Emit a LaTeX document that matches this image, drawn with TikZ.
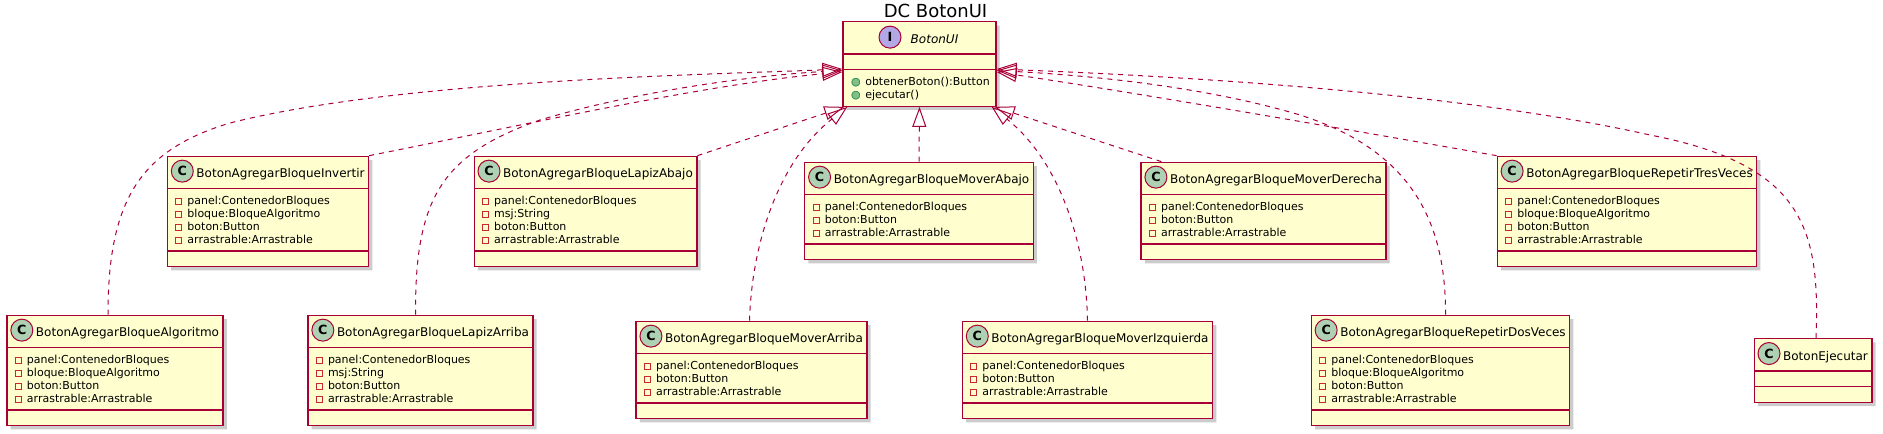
\documentclass[tikz,border=0pt]{standalone}
\usepackage{fontspec}
\setmainfont{DejaVu Sans}
\usepackage{tikz}
\usetikzlibrary{
  arrows.meta,
  calc,
  shapes.multipart,
  shadows
}

\definecolor{umlred}{HTML}{A80036}
\definecolor{umlfill}{HTML}{FEFECE}
\definecolor{clsicon}{HTML}{ADD1B2}
\definecolor{ifcicon}{HTML}{B4A7E5}
\definecolor{privred}{HTML}{C82930}
\definecolor{pubfill}{HTML}{84BE84}
\definecolor{publine}{HTML}{038048}

\newcommand{\hdr}[1]{\rule[-4.875pt]{0pt}{18pt}\hspace*{18.75pt}#1}
\newcommand{\attrs}[1]{{\fontsize{8.25pt}{9.75pt}\selectfont
  \begin{tabular}{@{}l@{}}\rule{0pt}{8.4pt}#1\end{tabular}}}
\newcommand{\priv}{\hspace*{3pt}\textcolor{privred}{\fboxsep=0pt\fboxrule=0.75pt%
  \fbox{\rule{0pt}{3.75pt}\rule{3.75pt}{0pt}}}\hspace*{3.75pt}}
\newcommand{\pub}{\hspace*{3pt}\rlap{\textcolor{pubfill}{●}}\textcolor{publine}{○}\hspace*{3.5pt}}

\begin{document}
\begin{tikzpicture}[x=0.75pt, y=-0.75pt,
  cls/.style={rectangle split, rectangle split parts=3,
    rectangle split part align=left, rectangle split empty part height=0pt,
    draw=umlred, fill=umlfill, line width=1pt, inner xsep=3pt, inner ysep=2.625pt,
    font=\fontsize{9pt}{11pt}\selectfont,
    drop shadow={shadow xshift=2.8pt, shadow yshift=-2.8pt, opacity=0.4}},
  cicon/.style={circle, draw=umlred, fill=clsicon, line width=0.75pt, inner sep=0pt,
    minimum size=16.5pt, font=\fontsize{9.5pt}{11pt}\selectfont\bfseries},
  impl/.style={draw=umlred, line width=0.75pt, dash pattern=on 3.75pt off 3.75pt,
    -{Triangle[open, length=15pt, width=10.5pt]}}]
  \useasboundingbox (0, 0) rectangle (1883, 433);

  \node[anchor=base, font=\fontsize{13.5pt}{16pt}\selectfont] at (935.5, 17) (Title) {DC BotonUI};

  \node[cls, rectangle split part align={center,left,left}, minimum width=114.75pt]
  at (919.5, 64) (BotonUI) {\rule[-4.875pt]{0pt}{18pt}\hspace*{22.5pt}\textit{BotonUI}%
    \nodepart{two}\nodepart{three}\attrs{\pub obtenerBoton():Button\\ \pub ejecutar()}};
  \node[cicon, fill=ifcicon] at ($(BotonUI.north)+(-29.5, 16)$) (BotonUIC) {I};

  % upper row
  \node[cls] at (268, 211.5) (Invertir) {\hdr{BotonAgregarBloqueInvertir}\nodepart{two}%
    \attrs{\priv panel:ContenedorBloques\\ \priv bloque:BloqueAlgoritmo\\
      \priv boton:Button\\ \priv arrastrable:Arrastrable}\nodepart{three}};
  \node[cls] at (585.5, 211.5) (LapizAbajo) {\hdr{BotonAgregarBloqueLapizAbajo}\nodepart{two}%
    \attrs{\priv panel:ContenedorBloques\\ \priv msj:String\\
      \priv boton:Button\\ \priv arrastrable:Arrastrable}\nodepart{three}};
  \node[cls] at (919, 211) (MoverAbajo) {\hdr{BotonAgregarBloqueMoverAbajo}\nodepart{two}%
    \attrs{\priv panel:ContenedorBloques\\ \priv boton:Button\\
      \priv arrastrable:Arrastrable}\nodepart{three}};
  \node[cls] at (1263.5, 211) (MoverDerecha) {\hdr{BotonAgregarBloqueMoverDerecha}\nodepart{two}%
    \attrs{\priv panel:ContenedorBloques\\ \priv boton:Button\\
      \priv arrastrable:Arrastrable}\nodepart{three}};
  \node[cls] at (1627, 211.5) (RepetirTres) {\hdr{BotonAgregarBloqueRepetirTresVeces}\nodepart{two}%
    \attrs{\priv panel:ContenedorBloques\\ \priv bloque:BloqueAlgoritmo\\
      \priv boton:Button\\ \priv arrastrable:Arrastrable}\nodepart{three}};

  % lower row
  \node[cls] at (115, 370.5) (Algoritmo) {\hdr{BotonAgregarBloqueAlgoritmo}\nodepart{two}%
    \attrs{\priv panel:ContenedorBloques\\ \priv bloque:BloqueAlgoritmo\\
      \priv boton:Button\\ \priv arrastrable:Arrastrable}\nodepart{three}};
  \node[cls] at (420.5, 370.5) (LapizArriba) {\hdr{BotonAgregarBloqueLapizArriba}\nodepart{two}%
    \attrs{\priv panel:ContenedorBloques\\ \priv msj:String\\
      \priv boton:Button\\ \priv arrastrable:Arrastrable}\nodepart{three}};
  \node[cls] at (751.5, 370) (MoverArriba) {\hdr{BotonAgregarBloqueMoverArriba}\nodepart{two}%
    \attrs{\priv panel:ContenedorBloques\\ \priv boton:Button\\
      \priv arrastrable:Arrastrable}\nodepart{three}};
  \node[cls] at (1087.5, 370) (MoverIzquierda) {\hdr{BotonAgregarBloqueMoverIzquierda}\nodepart{two}%
    \attrs{\priv panel:ContenedorBloques\\ \priv boton:Button\\
      \priv arrastrable:Arrastrable}\nodepart{three}};
  \node[cls] at (1440.5, 370.5) (RepetirDos) {\hdr{BotonAgregarBloqueRepetirDosVeces}\nodepart{two}%
    \attrs{\priv panel:ContenedorBloques\\ \priv bloque:BloqueAlgoritmo\\
      \priv boton:Button\\ \priv arrastrable:Arrastrable}\nodepart{three}};
  \node[cls] at (1813, 370.5) (Ejecutar) {\hdr{BotonEjecutar}\nodepart{two}\nodepart{three}};

  \node[cicon] at ($(Invertir.north west)+(15.5, 15.5)$) (InvertirC) {C};
  \node[cicon] at ($(LapizAbajo.north west)+(15.5, 15.5)$) (LapizAbajoC) {C};
  \node[cicon] at ($(MoverAbajo.north west)+(15.5, 15.5)$) (MoverAbajoC) {C};
  \node[cicon] at ($(MoverDerecha.north west)+(15.5, 15.5)$) (MoverDerechaC) {C};
  \node[cicon] at ($(RepetirTres.north west)+(15.5, 15.5)$) (RepetirTresC) {C};
  \node[cicon] at ($(Algoritmo.north west)+(15.5, 15.5)$) (AlgoritmoC) {C};
  \node[cicon] at ($(LapizArriba.north west)+(15.5, 15.5)$) (LapizArribaC) {C};
  \node[cicon] at ($(MoverArriba.north west)+(15.5, 15.5)$) (MoverArribaC) {C};
  \node[cicon] at ($(MoverIzquierda.north west)+(15.5, 15.5)$) (MoverIzquierdaC) {C};
  \node[cicon] at ($(RepetirDos.north west)+(15.5, 15.5)$) (RepetirDosC) {C};
  \node[cicon] at ($(Ejecutar.north west)+(15.5, 15.5)$) (EjecutarC) {C};

  % realizations, left side
  \draw[impl] ($(Algoritmo.north)+(-7, 0)$) .. controls (108, 200) and (140, 150) .. (230, 123)
  .. controls (400, 80) and (700, 75) .. ($(BotonUI.west)+(0, 5)$);
  \draw[impl] (Invertir.north east) .. controls (500, 130) and (700, 85) .. ($(BotonUI.west)+(0, 8)$);
  \draw[impl] ($(LapizArriba.north)+(-5, 0)$) .. controls (415, 200) and (440, 155) .. (540, 120)
  .. controls (640, 90) and (760, 75) .. ($(BotonUI.west)+(0, 6.5)$);
  \draw[impl] (LapizAbajo.north east) -- ($(BotonUI.south west)+(2, 0)$);
  \draw[impl] ($(MoverArriba.north)+(-2, 0)$) .. controls (752, 240) and (780, 160) .. ($(BotonUI.south west)+(5, 0)$);

  \draw[impl] (MoverAbajo.north) -- (BotonUI.south);

  % realizations, right side
  \draw[impl] (MoverIzquierda.north) .. controls (1086, 240) and (1058, 160) .. ($(BotonUI.south east)+(-5, 0)$);
  \draw[impl] ($(MoverDerecha.north west)+(21, 0)$) -- ($(BotonUI.south east)+(-2, 0)$);
  \draw[impl] ($(RepetirDos.north)+(5, 0)$) .. controls (1446, 220) and (1410, 150) .. (1300, 115)
  .. controls (1200, 85) and (1080, 75) .. ($(BotonUI.east)+(0, 6.5)$);
  \draw[impl] (RepetirTres.north west) .. controls (1350, 130) and (1150, 95) .. ($(BotonUI.east)+(0, 8)$);
  \draw[impl] ($(Ejecutar.north)+(3, 0)$) .. controls (1820, 230) and (1805, 165) .. (1650, 135)
  .. controls (1450, 90) and (1150, 75) .. ($(BotonUI.east)+(0, 5)$);
\end{tikzpicture}
\end{document}
